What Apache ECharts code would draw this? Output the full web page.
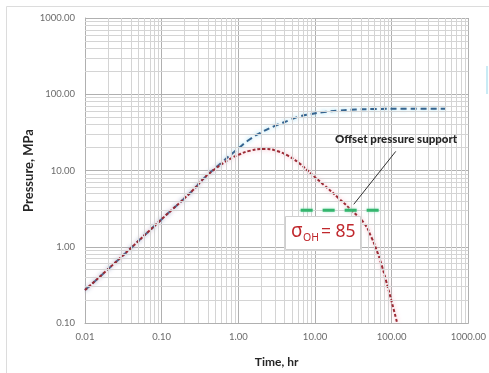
<!DOCTYPE html>
<html>
<head>
<meta charset="utf-8">
<script src="https://cdn.jsdelivr.net/npm/echarts@6/dist/echarts.min.js"></script>
<style>
  html, body { margin: 0; padding: 0; background: #ffffff; }
  #chart { width: 489px; height: 373px; }
</style>
</head>
<body>
<div id="chart"></div>
<script>
// Injection pressure vs. time, log-log
const timeTotal = [0.01, 0.03, 0.1, 0.25, 0.36, 0.6, 1.0, 1.4, 1.9, 3.0, 4.6, 6.2, 9.0, 12.3, 20, 34, 60, 150, 500];
const pressureTotal = [0.27, 0.74, 2.3, 5.4, 8.0, 12.6, 19.5, 25.5, 30.8, 38.5, 45.5, 51, 55, 58, 61, 63, 64, 64.5, 64.5];

const timeOffset = [0.01, 0.03, 0.1, 0.25, 0.36, 0.5, 0.76, 1.0, 1.4, 2.2, 3.2, 4.5, 6.2, 8.0, 10.2, 13, 20, 30.7, 43.5, 55, 65, 75, 85, 100, 118];
const pressureOffset = [0.27, 0.74, 2.3, 5.4, 8.0, 10.5, 14, 16, 18.1, 19.2, 18, 15.5, 12.5, 10, 8.0, 6.5, 4.4, 2.93, 2.05, 1.3, 0.85, 0.55, 0.35, 0.19, 0.1];

// Minimum horizontal stress level
const stressTime = [6.5, 74];
const stressPressure = [3, 3];

const xTickLabels = ['0.01', '0.10', '1.00', '10.00', '100.00', '1000.00'];
const yTickLabels = ['0.10', '1.00', '10.00', '100.00', '1000.00'];

const xDecades = [-2, -1, 0, 1, 2];
const yDecades = [-1, 0, 1, 2];
const minorSteps = [2, 3, 4, 5, 6, 7, 8, 9];

// Arrow for the offset pressure annotation: [time, pressure] from / to
const arrowFrom = [113, 17.8];
const arrowTo = [32, 3.6];

const zip = (xs, ys) => xs.map((x, i) => [x, ys[i]]);

const minorX = [];
xDecades.forEach(e => minorSteps.forEach(k => minorX.push({ xAxis: k * Math.pow(10, e) })));
const minorY = [];
yDecades.forEach(e => minorSteps.forEach(k => minorY.push({ yAxis: k * Math.pow(10, e) })));

const FONT = 'Lato, "Open Sans", sans-serif';
const BOX_FONT = '"Noto Sans", "Open Sans", sans-serif';
const BOX_RED = '#c0282d';

const chart = echarts.init(document.getElementById('chart'), null, { renderer: 'canvas' });

chart.setOption({
  animation: false,
  backgroundColor: '#ffffff',
  grid: { left: 85, top: 18, width: 386, height: 306, containLabel: false },
  xAxis: {
    type: 'log',
    logBase: 10,
    min: 0.01,
    max: 1000,
    name: 'Time, hr',
    nameLocation: 'middle',
    nameGap: 33,
    nameMoveOverlap: false,
    nameTextStyle: { fontFamily: FONT, fontWeight: 'bold', fontSize: 12, color: '#262626' },
    axisLine: { show: true, lineStyle: { color: '#b0b0b0', width: 1 } },
    axisTick: { show: false },
    axisLabel: {
      margin: 9,
      fontFamily: FONT,
      fontSize: 9.5,
      color: '#6b6b6b',
      formatter: v => xTickLabels[Math.round(Math.log10(v)) + 2] || ''
    },
    splitLine: { show: true, lineStyle: { color: '#b0b0b0', width: 1 } }
  },
  yAxis: {
    type: 'log',
    logBase: 10,
    min: 0.1,
    max: 1000,
    name: 'Pressure, MPa',
    nameLocation: 'middle',
    nameGap: 50,
    nameMoveOverlap: false,
    nameRotate: 90,
    nameTextStyle: { fontFamily: FONT, fontWeight: 'bold', fontSize: 13, color: '#262626' },
    axisLine: { show: true, lineStyle: { color: '#b0b0b0', width: 1 } },
    axisTick: { show: false },
    axisLabel: {
      margin: 10,
      fontFamily: FONT,
      fontSize: 9.5,
      color: '#6b6b6b',
      formatter: v => yTickLabels[Math.round(Math.log10(v)) + 1] || ''
    },
    splitLine: { show: true, lineStyle: { color: '#b0b0b0', width: 1 } }
  },
  series: [
    {
      name: 'minor grid',
      type: 'line',
      data: [],
      silent: true,
      z: 0,
      markLine: {
        silent: true,
        symbol: ['none', 'none'],
        label: { show: false },
        lineStyle: { type: 'solid', color: '#d4d4d4', width: 1 },
        emphasis: { disabled: true },
        data: minorX.concat(minorY)
      }
    },
    {
      name: 'Total',
      type: 'line',
      data: zip(timeTotal, pressureTotal),
      smooth: 0.5,
      showSymbol: false,
      z: 3,
      lineStyle: {
        color: '#35648f',
        width: 2,
        type: [6, 4],
        shadowColor: 'rgba(120, 210, 240, 0.9)',
        shadowBlur: 4
      }
    },
    {
      name: 'Offset',
      type: 'line',
      data: zip(timeOffset, pressureOffset),
      smooth: 0.5,
      showSymbol: false,
      z: 4,
      lineStyle: {
        color: '#9c2a34',
        width: 2,
        type: [3, 2],
        shadowColor: 'rgba(240, 140, 160, 0.8)',
        shadowBlur: 4
      },
      markLine: {
        silent: true,
        symbol: ['none', 'arrow'],
        symbolSize: [0, 7],
        label: { show: false },
        lineStyle: { type: 'solid', color: '#303030', width: 1 },
        data: [[{ coord: arrowFrom }, { coord: arrowTo }]]
      }
    },
    {
      name: 'Stress',
      type: 'line',
      data: zip(stressTime, stressPressure),
      showSymbol: false,
      z: 5,
      lineStyle: {
        color: '#35b56e',
        width: 3,
        type: [12, 10],
        shadowColor: 'rgba(140, 230, 190, 0.8)',
        shadowBlur: 3
      }
    }
  ],
  graphic: [
    {
      type: 'rect',
      silent: true,
      z: -10,
      shape: { x: 6.5, y: 6.5, width: 520, height: 400 },
      style: { fill: 'none', stroke: '#dcdcdc', lineWidth: 1 }
    },
    {
      type: 'rect',
      silent: true,
      z: -10,
      shape: { x: 486, y: 66, width: 2, height: 28 },
      style: { fill: 'rgba(150, 215, 235, 0.5)' }
    },
    {
      type: 'text',
      silent: true,
      z: 20,
      style: {
        x: 396,
        y: 139,
        text: 'Offset pressure support',
        fontFamily: FONT,
        fontWeight: 900,
        fontSize: 11.5,
        fill: '#262626',
        align: 'center',
        verticalAlign: 'middle'
      }
    },
    {
      type: 'rect',
      silent: true,
      z: 20,
      shape: { x: 285.5, y: 216.5, width: 75, height: 33 },
      style: { fill: '#ffffff', stroke: '#cfcfcf', lineWidth: 1 }
    },
    {
      type: 'text',
      silent: true,
      z: 21,
      style: { x: 291, y: 232, text: 'σ', fontFamily: BOX_FONT, fontSize: 19, fill: BOX_RED, verticalAlign: 'middle' }
    },
    {
      type: 'text',
      silent: true,
      z: 21,
      style: { x: 303, y: 238, text: 'OH', fontFamily: BOX_FONT, fontSize: 10.5, fill: BOX_RED, verticalAlign: 'middle' }
    },
    {
      type: 'text',
      silent: true,
      z: 21,
      style: { x: 321, y: 232, text: '= 85', fontFamily: BOX_FONT, fontSize: 17.5, fill: BOX_RED, verticalAlign: 'middle' }
    }
  ]
});
</script>
</body>
</html>
